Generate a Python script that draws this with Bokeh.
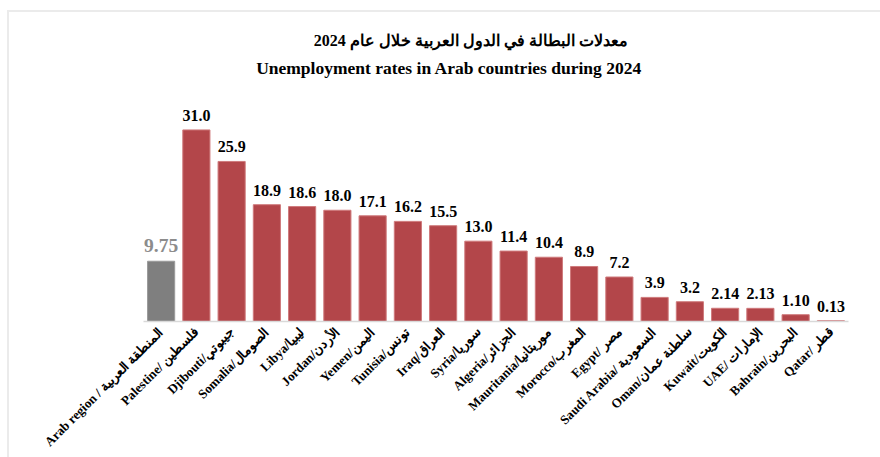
from bokeh.plotting import figure
from bokeh.models import ColumnDataSource, FactorRange
from bokeh.core.properties import value
from bokeh.embed import file_html
from bokeh.resources import INLINE
import math

categories = [
    "Arab region / المنطقة العربية",
    "Palestine/ فلسطين",
    "Djibouti/جيبوتي",
    "Somalia/الصومال",
    "Libya/ليبيا",
    "Jordan/الأردن",
    "Yemen/اليمن",
    "Tunisia/تونس",
    "Iraq/العراق",
    "Syria/سوريا",
    "Algeria/الجزائر",
    "Mauritania/موريتانيا",
    "Morocco/المغرب",
    "Egypt/ مصر",
    "Saudi Arabia/ السعودية",
    "Oman/سلطنة عمان",
    "Kuwait/الكويت",
    "UAE/ الإمارات",
    "Bahrain/البحرين",
    "Qatar/ قطر",
]
rates = [9.75, 31.0, 25.9, 18.9, 18.6, 18.0, 17.1, 16.2, 15.5, 13.0,
         11.4, 10.4, 8.9, 7.2, 3.9, 3.2, 2.14, 2.13, 1.10, 0.13]
rate_labels = ["9.75", "31.0", "25.9", "18.9", "18.6", "18.0", "17.1", "16.2",
               "15.5", "13.0", "11.4", "10.4", "8.9", "7.2", "3.9", "3.2",
               "2.14", "2.13", "1.10", "0.13"]

title_ar = "معدلات البطالة في الدول العربية خلال عام 2024"
title_en = "Unemployment rates in Arab countries during 2024"

RED = "#b3464a"
GRAY = "#7f7f7f"
bar_colors = [GRAY] + [RED] * (len(categories) - 1)
edge_colors = ["#9a9a9a"] + ["#cf7a7c"] * (len(categories) - 1)
label_colors = ["#8c8c8c"] + ["#000000"] * (len(categories) - 1)
label_sizes = ["19.5px"] + ["16px"] * (len(categories) - 1)

src = ColumnDataSource(dict(cat=categories, rate=rates, lab=rate_labels,
                            color=bar_colors, edge=edge_colors,
                            lcolor=label_colors, lsize=label_sizes))

SERIF = "Liberation Serif"
PX_PER_UNIT = 6.16          # vertical scale of the bars
FRAME_TOP, BASELINE = 10, 320

p = figure(width=880, height=457,
           x_range=FactorRange(*categories, range_padding=0),
           y_range=(0, (BASELINE - FRAME_TOP) / PX_PER_UNIT),
           output_backend="svg", toolbar_location=None,
           min_border_left=143, min_border_right=32,
           min_border_top=FRAME_TOP, min_border_bottom=100)
p.border_fill_color = None
p.background_fill_color = None
p.styles = {
    "background": ("linear-gradient(#ebebeb,#ebebeb) 7px 10px / 873px 2px no-repeat, "
                   "linear-gradient(#ebebeb,#ebebeb) 7px 10px / 2px 447px no-repeat, "
                   "#ffffff"),
}

p.vbar(x="cat", top="rate", width=0.77, source=src,
       fill_color="color", line_color="edge", line_width=1)

p.text(x="cat", y="rate", text="lab", source=src,
       text_color="lcolor", text_font_size="lsize",
       text_font=value(SERIF), text_font_style="bold",
       text_align="center", text_baseline="bottom", y_offset=-9)

# two-line title (Arabic above English) drawn in screen offsets
anchor = categories[8]
p.text(x=[anchor], y=[(BASELINE - 40) / PX_PER_UNIT], text=[title_ar],
       x_offset=27.5, text_font=value(SERIF), text_font_size="16px",
       text_font_style="bold", text_color="#000000",
       text_align="center", text_baseline="middle")
p.text(x=[anchor], y=[(BASELINE - 67) / PX_PER_UNIT], text=[title_en],
       x_offset=6, text_font=value(SERIF), text_font_size="17.5px",
       text_font_style="bold", text_color="#000000",
       text_align="center", text_baseline="middle")

p.yaxis.visible = False
p.xgrid.grid_line_color = None
p.ygrid.grid_line_color = None
p.outline_line_color = None

ax = p.xaxis[0]
ax.axis_line_color = "#d9d9d9"
ax.axis_line_width = 1.5
ax.major_tick_line_color = None
ax.minor_tick_line_color = None
ax.major_tick_out = 0
ax.major_tick_in = 0
ax.major_label_orientation = math.pi / 4
ax.major_label_text_font = SERIF
ax.major_label_text_font_style = "bold"
ax.major_label_text_font_size = "13px"
ax.major_label_text_color = "#000000"
ax.major_label_standoff = 8

open("out.html", "w").write(file_html(p, INLINE))
